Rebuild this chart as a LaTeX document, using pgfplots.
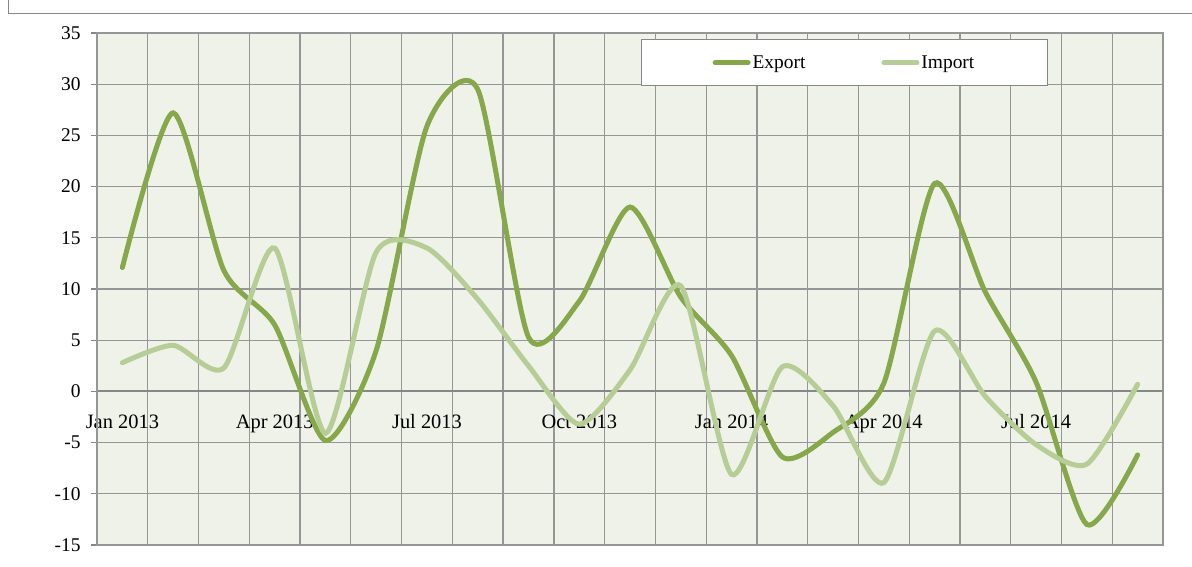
\documentclass[border=0pt]{standalone}
\usepackage{pgfplots}
\pgfplotsset{compat=1.18}
\usepackage{fontspec}
\setmainfont{Liberation Serif}
\definecolor{expc}{RGB}{134,167,74}
\definecolor{impc}{RGB}{182,205,150}
\definecolor{bgc}{RGB}{239,242,233}
\definecolor{gridc}{RGB}{150,150,150}
\definecolor{framec}{RGB}{135,135,135}
\pgfplotstableread{
i val
0 12.1
1 27.2
2 11.8
3 6.5
4 -4.8
5 4.0
6 25.9
7 29.5
8 5.3
9 8.8
10 18.0
11 9.2
12 3.5
13 -6.4
14 -4.0
15 0.8
16 20.3
17 9.7
18 0.9
19 -13.0
20 -6.2
}\exporttab
\pgfplotstableread{
i val
0 2.8
1 4.5
2 2.3
3 14.0
4 -4.1
5 13.6
6 14.0
7 9.0
8 2.5
9 -3.2
10 2.1
11 10.3
12 -8.1
13 2.4
14 -1.4
15 -8.9
16 5.9
17 -0.5
18 -5.2
19 -7.1
20 0.7
}\importtab
\begin{document}
\begin{tikzpicture}[x=1bp,y=1bp]
\useasboundingbox (0,0) rectangle (1192,567);
\fill[white] (0,0) rectangle (1192,567);
\draw[framec, line width=1.2bp] (8.5,567) -- (8.5,553.5) -- (1192,553.5);
\begin{axis}[
  scale only axis, width=1066bp, height=512bp,
  at={(97bp,22bp)}, anchor=south west,
  xmin=-0.5, xmax=20.5, ymin=-15, ymax=35,
  axis x line*=middle, axis y line*=left,
  axis line style={draw=framec, line width=1.8bp, -},
  axis background/.style={fill=bgc},
  xtick={-0.5,0.5,1.5,2.5,3.5,4.5,5.5,6.5,7.5,8.5,9.5,10.5,11.5,12.5,13.5,14.5,15.5,16.5,17.5,18.5,19.5,20.5},
  xticklabels={},
  xmajorgrids=true,
  extra x ticks={0,3,6,9,12,15,18},
  extra x tick labels={Jan 2013, Apr 2013, Jul 2013, Oct 2013, Jan 2014, Apr 2014, Jul 2014},
  extra x tick style={grid=none, major tick length=0pt, tick style={draw=none}},
  ytick={-15,-10,-5,0,5,10,15,20,25,30,35},
  ymajorgrids=true,
  grid style={draw=gridc, line width=1.3bp},
  major x tick style={draw=none},
  y tick style={draw=framec, line width=1.3bp},
  tick align=outside,
  major tick length=6bp,
  /pgf/number format/assume math mode=true,
  tick label style={text=black},
  yticklabel style={font=\fontsize{19.5}{21}\selectfont, anchor=east, xshift=-7bp},
  xticklabel style={font=\fontsize{20.5}{22}\selectfont, anchor=base, yshift=-37bp},
  clip=false,
  legend columns=2,
  legend style={at={(rel axis cs:0.7012,0.988)}, anchor=north, draw=framec, line width=1bp, fill=white,
    font=\fontsize{19.5}{21}\selectfont, inner xsep=71.5bp, inner ysep=14bp,
    /tikz/every even column/.append style={column sep=74bp}},
  legend image code/.code={\draw[#1, line cap=round] (0bp,0bp) -- (33bp,0bp);},
]
\draw[gridc, line width=1.3bp] (rel axis cs:0,0) rectangle (rel axis cs:1,1);
\addplot[expc, line width=5bp, smooth, tension=0.42, line cap=round] table[x=i, y=val] {\exporttab};
\addlegendentry{Export}
\addplot[impc, line width=5bp, smooth, tension=0.42, line cap=round] table[x=i, y=val] {\importtab};
\addlegendentry{Import}
\end{axis}
\end{tikzpicture}
\end{document}
